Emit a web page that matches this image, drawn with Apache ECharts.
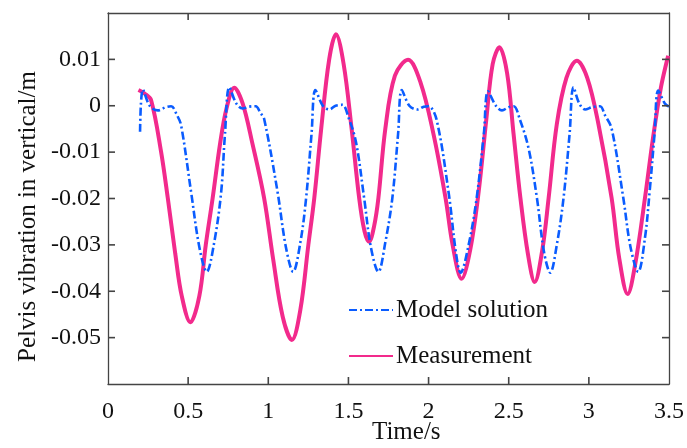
<!DOCTYPE html>
<html>
<head>
<meta charset="utf-8">
<script src="https://cdn.jsdelivr.net/npm/echarts@6/dist/echarts.min.js"></script>
<style>html,body{margin:0;padding:0;background:#fff}#c{width:687px;height:448px}</style>
</head>
<body>
<div id="c"></div>
<script>
// Measurement (pink solid)
const measT = [0.19,0.23,0.269,0.331,0.373,0.42,0.46,0.514,0.57,0.61,0.653,0.70,0.74,0.788,0.84,0.90,0.974,1.03,1.09,1.147,1.20,1.25,1.287,1.33,1.38,1.422,1.47,1.52,1.567,1.60,1.629,1.66,1.687,1.73,1.79,1.872,1.95,2.03,2.106,2.15,2.206,2.26,2.313,2.36,2.40,2.442,2.49,2.53,2.573,2.62,2.662,2.71,2.749,2.80,2.86,2.925,2.99,3.06,3.142,3.19,3.242,3.29,3.35,3.40,3.45,3.495];
const measV = [0.0034,0.0026,0.0012,-0.0099,-0.0199,-0.0320,-0.0410,-0.0467,-0.0410,-0.0300,-0.0199,-0.0080,-0.0005,0.0039,0.0005,-0.0080,-0.0199,-0.0330,-0.0455,-0.0505,-0.0440,-0.0300,-0.0199,-0.0050,0.0100,0.0154,0.0090,-0.0050,-0.0199,-0.0270,-0.0293,-0.0260,-0.0199,-0.0050,0.0065,0.0099,0.0050,-0.0060,-0.0199,-0.0300,-0.0373,-0.0310,-0.0184,-0.0030,0.0090,0.0126,0.0070,-0.0060,-0.0199,-0.0320,-0.0380,-0.0310,-0.0199,-0.0040,0.0060,0.0097,0.0060,-0.0040,-0.0199,-0.0330,-0.0406,-0.0340,-0.0199,-0.0070,0.0040,0.0108];
// Model solution (blue dash-dot)
const modelT = [0.20,0.218,0.26,0.311,0.36,0.394,0.43,0.456,0.518,0.57,0.616,0.66,0.705,0.73,0.757,0.80,0.84,0.88,0.922,0.95,0.974,1.057,1.11,1.155,1.20,1.236,1.27,1.294,1.34,1.381,1.42,1.463,1.50,1.547,1.598,1.64,1.687,1.73,1.774,1.81,1.833,1.88,1.93,1.97,2.00,2.05,2.127,2.17,2.20,2.25,2.30,2.345,2.371,2.42,2.458,2.50,2.531,2.57,2.624,2.676,2.72,2.759,2.80,2.842,2.88,2.904,2.94,2.977,3.02,3.07,3.10,3.142,3.215,3.26,3.308,3.35,3.381,3.41,3.433,3.474,3.50];
const modelV = [-0.0056,0.0035,0.0000,-0.0010,-0.0003,-0.0001,-0.0020,-0.0042,-0.0185,-0.0305,-0.0358,-0.0300,-0.0190,-0.0060,0.0040,0.0005,-0.0006,-0.0002,-0.0001,-0.0015,-0.0028,-0.0184,-0.0305,-0.0358,-0.0295,-0.0199,-0.0060,0.0034,0.0000,-0.0008,0.0000,0.0002,-0.0025,-0.0078,-0.0199,-0.0305,-0.0358,-0.0295,-0.0199,-0.0060,0.0034,0.0000,-0.0008,-0.0002,-0.0001,-0.0030,-0.0192,-0.0315,-0.0360,-0.0300,-0.0199,-0.0060,0.0031,0.0000,-0.0010,-0.0003,-0.0001,-0.0030,-0.0092,-0.0199,-0.0315,-0.0360,-0.0300,-0.0199,-0.0060,0.0040,0.0005,-0.0008,-0.0003,-0.0001,-0.0020,-0.0049,-0.0199,-0.0305,-0.0358,-0.0285,-0.0178,-0.0060,0.0033,0.0005,-0.0002];
const xTicks = {min: 0, max: 3.5, interval: 0.5};
const yTicks = {min: -0.06, max: 0.02, interval: 0.01};
const xTickValues = [0.5, 1, 1.5, 2, 2.5, 3];
const yTickValues = [-0.05, -0.04, -0.03, -0.02, -0.01, 0, 0.01];
const seriesNames = ['Model solution', 'Measurement'];
const xName = 'Time/s';
const yName = 'Pelvis vibration in vertical/m';

const zip = (a, b) => a.map((t, i) => [t, b[i]]);
const FONT = 'Liberation Serif';
const axisColor = '#444444';
const TICK = 7;
const mkLine = () => ({show: true, onZero: false, lineStyle: {color: axisColor, width: 1.3}});
// tick marks on all four sides, positioned through the axes' own scales
const tickData = [];
xTickValues.forEach(v => { tickData.push([v, yTicks.min, 0]); tickData.push([v, yTicks.max, 1]); });
yTickValues.forEach(v => { tickData.push([xTicks.min, v, 2]); tickData.push([xTicks.max, v, 3]); });

const chart = echarts.init(document.getElementById('c'), null, {renderer: 'canvas'});
chart.setOption({
  animation: false,
  grid: {left: 108, right: 16, top: 13, bottom: 64},
  tooltip: {show: false},
  xAxis: [
    {type: 'value', min: xTicks.min, max: xTicks.max, interval: xTicks.interval,
      axisLine: mkLine(), axisTick: {show: false}, splitLine: {show: false},
      axisLabel: {color: '#111', fontFamily: FONT, fontSize: 24, margin: 16}},
    {type: 'value', position: 'top', min: xTicks.min, max: xTicks.max, interval: xTicks.interval,
      axisLine: mkLine(), axisTick: {show: false}, splitLine: {show: false}, axisLabel: {show: false}}
  ],
  yAxis: [
    {type: 'value', min: yTicks.min, max: yTicks.max, interval: yTicks.interval,
      axisLine: mkLine(), axisTick: {show: false}, splitLine: {show: false},
      axisLabel: {color: '#111', fontFamily: FONT, fontSize: 24, margin: 7, showMinLabel: false, showMaxLabel: false}},
    {type: 'value', position: 'right', min: yTicks.min, max: yTicks.max, interval: yTicks.interval,
      axisLine: mkLine(), axisTick: {show: false}, splitLine: {show: false}, axisLabel: {show: false}}
  ],
  legend: {
    orient: 'vertical', left: 343, top: 292, itemWidth: 44, itemHeight: 14, itemGap: 20,
    itemStyle: {opacity: 0},
    textStyle: {fontFamily: FONT, fontSize: 25, color: '#111', lineHeight: 26, padding: [0,0,0,-2]},
    data: seriesNames
  },
  graphic: [
    {type: 'text', left: 372, top: 420, style: {text: xName, font: '25px "Liberation Serif"', fill: '#111'}},
    {type: 'text', rotation: Math.PI / 2, x: 16, y: 362, style: {text: yName, font: '25px "Liberation Serif"', fill: '#111', textAlign: 'left', textVerticalAlign: 'top'}}
  ],
  series: [
    {name: seriesNames[0], type: 'line', data: zip(modelT, modelV), symbol: 'none', smooth: 0.35,
      lineStyle: {color: '#0A5CFF', width: 2.6, type: [8, 3, 2, 3]}, itemStyle: {color: '#0A5CFF'}, z: 3},
    {name: seriesNames[1], type: 'line', data: zip(measT, measV), symbol: 'none', smooth: 0.35,
      lineStyle: {color: '#F22A8C', width: 4}, itemStyle: {color: '#F22A8C'}, z: 2},
    {name: 'ticks', type: 'custom', data: tickData, silent: true, clip: false, z: 5,
      encode: {x: 0, y: 1},
      renderItem: function (params, api) {
        const p = api.coord([api.value(0), api.value(1)]);
        const k = api.value(2);
        let x2 = p[0], y2 = p[1];
        if (k === 0) y2 -= TICK; else if (k === 1) y2 += TICK; else if (k === 2) x2 += TICK; else x2 -= TICK;
        return {type: 'line', shape: {x1: p[0], y1: p[1], x2: x2, y2: y2},
          style: {stroke: axisColor, lineWidth: 1.6}};
      }}
  ]
});
</script>
</body>
</html>
